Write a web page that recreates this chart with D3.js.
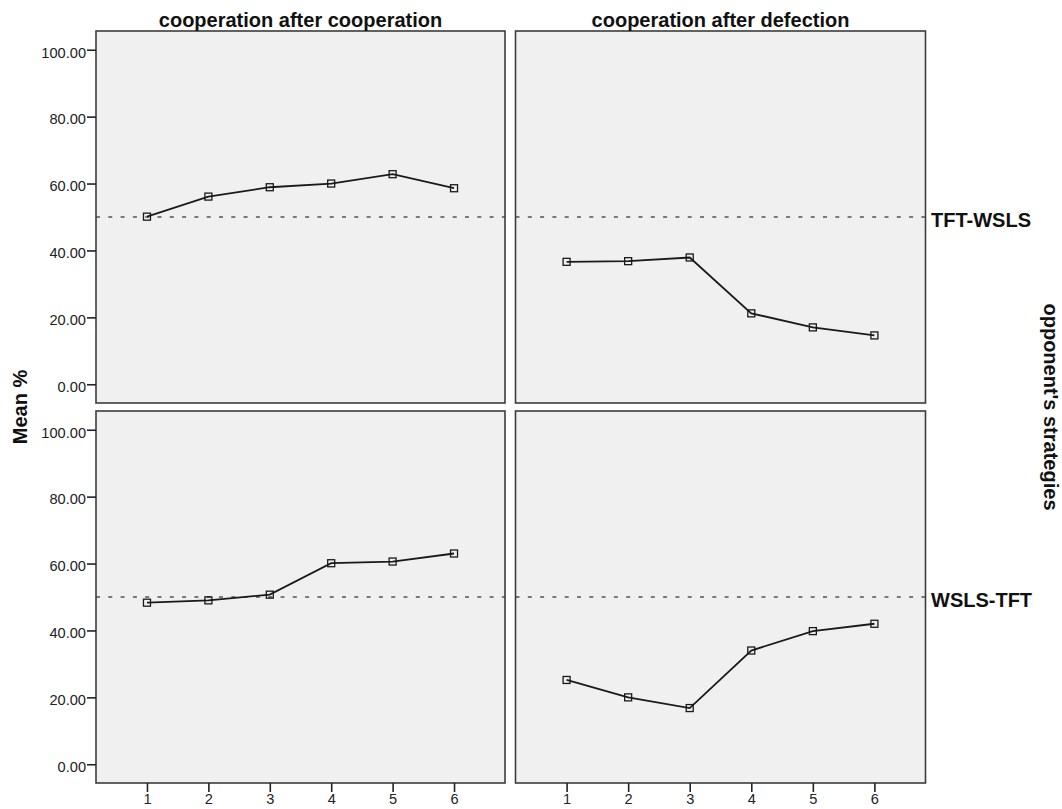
<!DOCTYPE html>
<html>
<head>
<meta charset="utf-8">
<script src="https://cdn.jsdelivr.net/npm/d3@7"></script>
<style>
  html, body { margin: 0; padding: 0; background: #ffffff; }
  svg { display: block; }
</style>
</head>
<body>
<svg id="chart" width="1062" height="809"></svg>
<script>
// ---- data ----
const rounds = [1, 2, 3, 4, 5, 6];
const columnTitles = ["cooperation after cooperation", "cooperation after defection"];
const rowTitles = ["TFT-WSLS", "WSLS-TFT"];
const tftWslsAfterCoop = [50.1, 56.1, 58.9, 60.0, 62.8, 58.6];
const tftWslsAfterDef  = [36.6, 36.8, 37.9, 21.2, 17.0, 14.6];
const wslsTftAfterCoop = [48.3, 49.0, 50.7, 60.1, 60.6, 63.0];
const wslsTftAfterDef  = [25.2, 20.0, 16.8, 34.0, 39.8, 42.0];
const yTicks = [0, 20, 40, 60, 80, 100];
const referenceValue = 50;
const yAxisTitle = "Mean %";
const rowAxisTitle = "opponent's strategies";

const seriesGrid = [
  [tftWslsAfterCoop, tftWslsAfterDef],
  [wslsTftAfterCoop, wslsTftAfterDef]
];

// ---- layout ----
const font = "'Liberation Sans', Arial, Helvetica, sans-serif";
const colX = [[96, 505], [515.5, 925.5]];
const rowY = [[31, 403], [411, 783]];

const svg = d3.select("#chart");

const xDomain = [0.17, 6.83];
const yDomain = [-5.6, 105.6];

for (let r = 0; r < 2; r++) {
  for (let c = 0; c < 2; c++) {
    const [x0, x1] = colX[c];
    const [y0, y1] = rowY[r];
    const x = d3.scaleLinear().domain(xDomain).range([x0, x1]);
    const y = d3.scaleLinear().domain(yDomain).range([y1, y0]);
    const g = svg.append("g");

    // panel background
    g.append("rect")
      .attr("x", x0).attr("y", y0)
      .attr("width", x1 - x0).attr("height", y1 - y0)
      .attr("fill", "#f0f0f0");

    // reference line
    g.append("line")
      .attr("x1", x0).attr("x2", x1)
      .attr("y1", y(referenceValue)).attr("y2", y(referenceValue))
      .attr("stroke", "#7a7a7a")
      .attr("stroke-width", 2)
      .attr("stroke-dasharray", "4,8.3");

    // series line
    const vals = seriesGrid[r][c];
    const pts = rounds.map((d, i) => [d, vals[i]]);
    g.append("path")
      .datum(pts)
      .attr("fill", "none")
      .attr("stroke", "#1a1a1a")
      .attr("stroke-width", 1.8)
      .attr("d", d3.line().x(d => x(d[0])).y(d => y(d[1])));

    // markers
    g.selectAll("rect.mk")
      .data(pts)
      .join("rect")
      .attr("class", "mk")
      .attr("x", d => x(d[0]) - 3.5)
      .attr("y", d => y(d[1]) - 3.5)
      .attr("width", 7).attr("height", 7)
      .attr("fill", "none")
      .attr("stroke", "#1a1a1a")
      .attr("stroke-width", 1.3);

    // frame
    g.append("rect")
      .attr("x", x0).attr("y", y0)
      .attr("width", x1 - x0).attr("height", y1 - y0)
      .attr("fill", "none")
      .attr("stroke", "#3c3c3c")
      .attr("stroke-width", 1.6);

    // y axis on left column
    if (c === 0) {
      const ya = g.append("g")
        .attr("transform", `translate(${x0},0)`)
        .call(d3.axisLeft(y).tickValues(yTicks).tickFormat(d3.format(".2f")).tickSize(9).tickPadding(1));
      ya.select(".domain").remove();
      ya.selectAll(".tick line").attr("stroke", "#222").attr("stroke-width", 1.6);
      ya.selectAll(".tick text")
        .attr("fill", "#222")
        .attr("font-family", font)
        .attr("font-size", 14.6)
        .attr("dy", "0.5em");
    }

    // x axis on bottom row
    if (r === 1) {
      const xa = g.append("g")
        .attr("transform", `translate(0,${y1})`)
        .call(d3.axisBottom(x).tickValues(rounds).tickFormat(d3.format("d")).tickSize(9).tickPadding(2));
      xa.select(".domain").remove();
      xa.selectAll(".tick line").attr("stroke", "#222").attr("stroke-width", 1.6);
      xa.selectAll(".tick text")
        .attr("fill", "#222")
        .attr("font-family", font)
        .attr("font-size", 14.6);
    }

    // column titles
    if (r === 0) {
      svg.append("text")
        .attr("x", (x0 + x1) / 2).attr("y", 27)
        .attr("text-anchor", "middle")
        .attr("font-family", font).attr("font-weight", "bold")
        .attr("font-size", 20).attr("fill", "#111")
        .text(columnTitles[c]);
    }

    // row titles
    if (c === 1) {
      svg.append("text")
        .attr("x", 931).attr("y", y(referenceValue) + 9.8)
        .attr("font-family", font).attr("font-weight", "bold")
        .attr("font-size", 20).attr("fill", "#111")
        .text(rowTitles[r]);
    }
  }
}

// y axis title
svg.append("text")
  .attr("transform", "translate(27,407) rotate(-90)")
  .attr("text-anchor", "middle")
  .attr("font-family", font).attr("font-weight", "bold")
  .attr("font-size", 20).attr("fill", "#111")
  .text(yAxisTitle);

// right side title
svg.append("text")
  .attr("transform", "translate(1044,407) rotate(90)")
  .attr("text-anchor", "middle")
  .attr("font-family", font).attr("font-weight", "bold")
  .attr("font-size", 20).attr("fill", "#111")
  .text(rowAxisTitle);
</script>
</body>
</html>
